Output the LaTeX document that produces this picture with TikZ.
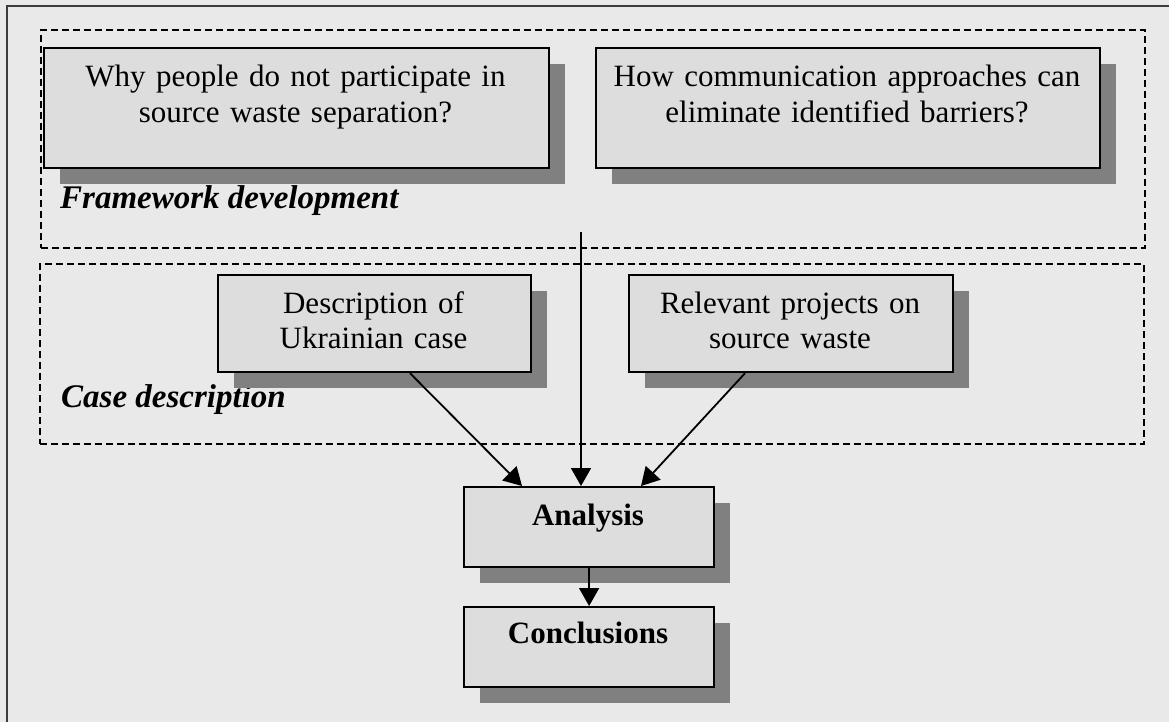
\documentclass[tikz,border=0pt]{standalone}
\usepackage{fontspec}
\setmainfont{Liberation Serif}
\usetikzlibrary{arrows.meta,calc,shadows}
\definecolor{bgc}{HTML}{E9E9E9}
\definecolor{boxc}{HTML}{DDDDDD}
\definecolor{shc}{HTML}{808080}
\definecolor{framec}{HTML}{3C3C3C}
\begin{document}
\begin{tikzpicture}[x=1pt,y=-1pt,
  qbox/.style={draw=black, line width=2.2pt, fill=boxc, anchor=north west, inner sep=0pt,
    drop shadow={shadow xshift=16pt, shadow yshift=-16pt, fill=shc, opacity=1}},
  qtext/.style={anchor=base, align=center, text width=600pt, inner sep=0pt,
    font=\fontsize{31}{35.5}\selectfont},
  btext/.style={qtext, font=\fontsize{31}{35.5}\selectfont\bfseries},
  grp/.style={draw=black, line width=1.7pt, dash pattern=on 7pt off 4pt, anchor=north west, inner sep=0pt},
  glabel/.style={anchor=base west, inner sep=0pt, font=\fontsize{33}{37}\selectfont\bfseries\itshape},
  arr/.style={line width=1.8pt, -{Triangle[length=18pt,width=20pt]}}]
\fill[bgc] (0,0) rectangle (1169,722);
\useasboundingbox (0,0) rectangle (1169,722);
\draw[framec, line width=2.6pt] (7,722) -- (7,6) -- (1169,6);

% groups
\node[grp, minimum width=1104pt, minimum height=218pt] (fw) at (40,29) {};
\node[grp, minimum width=1104pt, minimum height=180pt] (cs) at (39,263) {};
\node[glabel] (fwl) at (60,208) {Framework development};
\node[glabel] (csl) at (61,407) {Case description};

% boxes
\node[qbox, minimum width=505pt, minimum height=120pt] (why) at (43,47) {};
\node[qbox, minimum width=504pt, minimum height=120pt] (how) at (595,47) {};
\node[qbox, minimum width=313pt, minimum height=97pt] (desc) at (217,274) {};
\node[qbox, minimum width=324pt, minimum height=97pt] (rel) at (628,274) {};
\node[qbox, minimum width=250pt, minimum height=80pt] (ana) at (463,486) {};
\node[qbox, minimum width=250pt, minimum height=80pt] (conc) at (463,606) {};

% texts
\node[qtext] (whyt) at (295.5,87) {Why people do not participate in\\source waste separation?};
\node[qtext] (howt) at (847,87) {How communication approaches can\\eliminate identified barriers?};
\node[qtext] (desct) at (373.5,313) {Description of\\Ukrainian case};
\node[qtext] (relt) at (790,313) {Relevant projects on\\source waste};
\node[btext] (anat) at (588,525) {Analysis};
\node[btext] (conct) at (588,643) {Conclusions};

% connectors
\coordinate (fwout) at (581,232);
\draw[arr] (fwout) -- (fwout |- ana.north);
\draw[arr] ($(desc.south west)+(193pt,0pt)$) -- ($(ana.north west)+(59pt,0pt)$);
\draw[arr] ($(rel.south west)+(117pt,0pt)$) -- ($(ana.north west)+(178pt,0pt)$);
\draw[arr] (ana.south) -- (conc.north);
\end{tikzpicture}
\end{document}
